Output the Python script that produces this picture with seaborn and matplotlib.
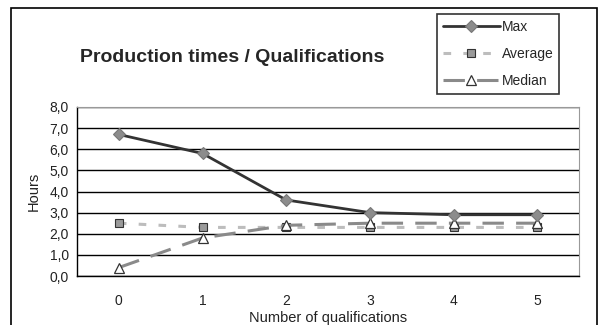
import matplotlib
matplotlib.use("Agg")
import matplotlib.pyplot as plt
import seaborn as sns
import pandas as pd
from matplotlib.patches import Rectangle
from matplotlib.ticker import FixedLocator, FuncFormatter

categories = [0, 1, 2, 3, 4, 5]
max_vals = [6.7, 5.8, 3.6, 3.0, 2.9, 2.9]
avg_vals = [2.5, 2.3, 2.3, 2.3, 2.3, 2.3]
median_vals = [0.4, 1.8, 2.4, 2.5, 2.5, 2.5]
y_ticks = [0, 1, 2, 3, 4, 5, 6, 7, 8]

sns.set_style("white")
plt.rcParams['font.family'] = ['Liberation Sans', 'DejaVu Sans']

fig = plt.figure(figsize=(5.99, 3.25), dpi=100)
ax = fig.add_axes([77/599, 1-276/325, (579-77)/599, (276-107)/325])

df = pd.DataFrame({"x": categories, "Max": max_vals, "Average": avg_vals, "Median": median_vals})

sns.lineplot(data=df, x="x", y="Average", ax=ax, color="#bdbdbd", lw=2.2,
             linestyle=(0, (2.5, 4)), marker="s", markersize=6,
             markerfacecolor="#9a9a9a", markeredgecolor="#333333", markeredgewidth=0.8,
             label="Average", zorder=3)
sns.lineplot(data=df, x="x", y="Median", ax=ax, color="#8a8a8a", lw=2.2,
             linestyle=(0, (7, 4)), marker="^", markersize=7,
             markerfacecolor="white", markeredgecolor="#333333", markeredgewidth=0.9,
             label="Median", zorder=4)
sns.lineplot(data=df, x="x", y="Max", ax=ax, color="#333333", lw=2.0,
             marker="D", markersize=6.5, markerfacecolor="#8c8c8c",
             markeredgecolor="#777777", markeredgewidth=0.8, label="Max", zorder=5)

ax.set_xlim(-0.5, 5.5)
ax.set_ylim(0, 8)
ax.set_yticks(y_ticks)
ax.yaxis.set_major_formatter(FuncFormatter(lambda v, p: f"{v:.1f}".replace(".", ",")))
ax.set_xticks(categories)
ax.set_xticklabels([str(c) for c in categories])
ax.xaxis.set_minor_locator(FixedLocator([c - 0.5 for c in categories] + [5.5]))
ax.tick_params(axis="x", which="major", length=0, labelsize=10, pad=13, labelcolor="#222222")
ax.tick_params(axis="x", which="minor", length=4, width=1, color="black", direction="out")
ax.tick_params(axis="y", which="major", length=4, width=1, color="black", direction="out",
               labelsize=10, pad=2, labelcolor="#222222")

ax.grid(axis="y", color="black", lw=1.0)
ax.set_axisbelow(True)
for side in ["top", "right"]:
    ax.spines[side].set_color("#999999")
    ax.spines[side].set_linewidth(0.8)
for side in ["left", "bottom"]:
    ax.spines[side].set_color("black")
    ax.spines[side].set_linewidth(1.0)

ax.set_xlabel("Number of qualifications", fontsize=10.5, labelpad=2, color="#222222")
ax.set_ylabel("Hours", fontsize=10.5, labelpad=6, color="#222222")

fig.text(232/599, 1-57/325, "Production times / Qualifications", ha="center", va="center",
         fontsize=14, fontweight="bold")

handles, labels = ax.get_legend_handles_labels()
order = [labels.index(l) for l in ["Max", "Average", "Median"]]
leg = fig.legend([handles[i] for i in order], [labels[i] for i in order],
                 loc="upper left", bbox_to_anchor=(437/599, 1-14/325),
                 bbox_transform=fig.transFigure, frameon=True, fancybox=False,
                 fontsize=10, handlelength=4.1, borderaxespad=0, borderpad=0.4,
                 labelspacing=0.95, handletextpad=0.15)
leg.get_frame().set_edgecolor("black")
leg.get_frame().set_linewidth(1.2)
if ax.get_legend():
    ax.get_legend().remove()

fig.patches.append(Rectangle((11/599, -0.2), (597-11)/599, 1-8/325+0.2,
                             transform=fig.transFigure, fill=False,
                             edgecolor="black", lw=1.2, zorder=0))

fig.savefig("out.png", dpi=100)
